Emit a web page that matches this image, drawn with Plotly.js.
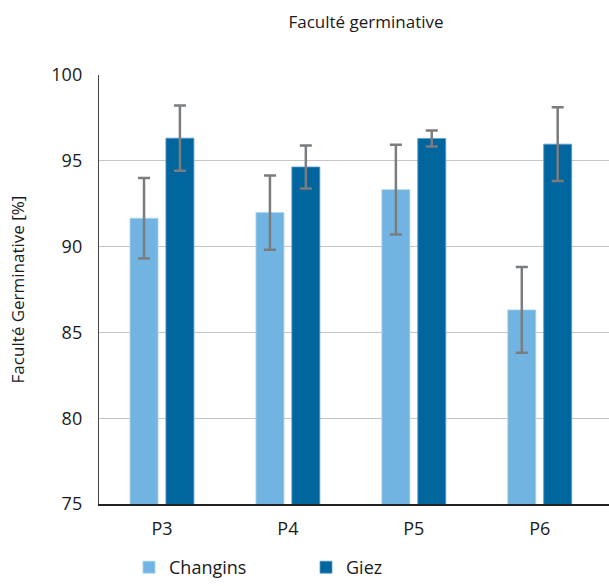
<!DOCTYPE html>
<html>
<head>
<meta charset="utf-8">
<script src="https://cdn.plot.ly/plotly-3.0.1.min.js"></script>
<style>html,body{margin:0;padding:0;background:#fff;}#chart{width:609px;height:586px;}</style>
</head>
<body>
<div id="chart"></div>
<script>
const categories = ["P3", "P4", "P5", "P6"];
const changinsValues = [91.65, 91.98, 93.32, 86.31];
const changinsErrors = [2.35, 2.17, 2.62, 2.5];
const giezValues = [96.32, 94.64, 96.30, 95.97];
const giezErrors = [1.9, 1.25, 0.47, 2.15];
const yTicks = [75, 80, 85, 90, 95, 100];

const font = "Open Sans, sans-serif";
const errStyle = {type: "data", visible: true, color: "#7a7d80", thickness: 2.5, width: 6};

const traces = [
  {
    type: "bar", name: "Changins", x: categories, y: changinsValues,
    marker: {color: "#72b4e1", line: {color: "#a9d2ee", width: 0.8}},
    error_y: Object.assign({array: changinsErrors}, errStyle)
  },
  {
    type: "bar", name: "Giez", x: categories, y: giezValues,
    marker: {color: "#02669e", line: {color: "#5c9ccc", width: 0.8}},
    error_y: Object.assign({array: giezErrors}, errStyle)
  }
];

const layout = {
  width: 609, height: 586,
  margin: {l: 99, r: 0, t: 75, b: 82},
  paper_bgcolor: "#fff", plot_bgcolor: "#fff",
  font: {family: font, color: "#1a1a1a", size: 17},
  title: {text: "Faculté germinative", x: 0.601, xanchor: "center", y: 0.962, yanchor: "middle",
          font: {family: font, size: 17, color: "#1a1a1a"}},
  barmode: "group", bargap: 0.43, bargroupgap: 0.22,
  xaxis: {
    type: "category", range: [-0.5, 3.55],
    showline: true, linecolor: "#222", linewidth: 1.5,
    showgrid: false, ticks: "", ticklabelstandoff: 8,
    tickfont: {family: font, size: 18, color: "#1a1a1a"}, fixedrange: true
  },
  yaxis: {
    range: [75, 100], tickvals: yTicks, ticktext: yTicks.map(String),
    showline: true, linecolor: "#444", linewidth: 1.2,
    showgrid: true, gridcolor: "#c6c6c6", gridwidth: 1.2,
    zeroline: false, ticks: "", ticklabelstandoff: 12,
    tickfont: {family: font, size: 18, color: "#1a1a1a"},
    title: {text: "Faculté Germinative [%]", standoff: 22, font: {family: font, size: 17, color: "#1a1a1a"}},
    automargin: false, fixedrange: true
  },
  showlegend: true,
  legend: {
    orientation: "h", xref: "container", yref: "container",
    x: 129/609, xanchor: "left", y: -11/586, yanchor: "bottom",
    entrywidth: 132, entrywidthmode: "pixels",
    font: {family: font, size: 18, color: "#1a1a1a"},
    itemwidth: 30, tracegroupgap: 0
  }
};

Plotly.newPlot("chart", traces, layout, {displayModeBar: false, staticPlot: true});
</script>
</body>
</html>
